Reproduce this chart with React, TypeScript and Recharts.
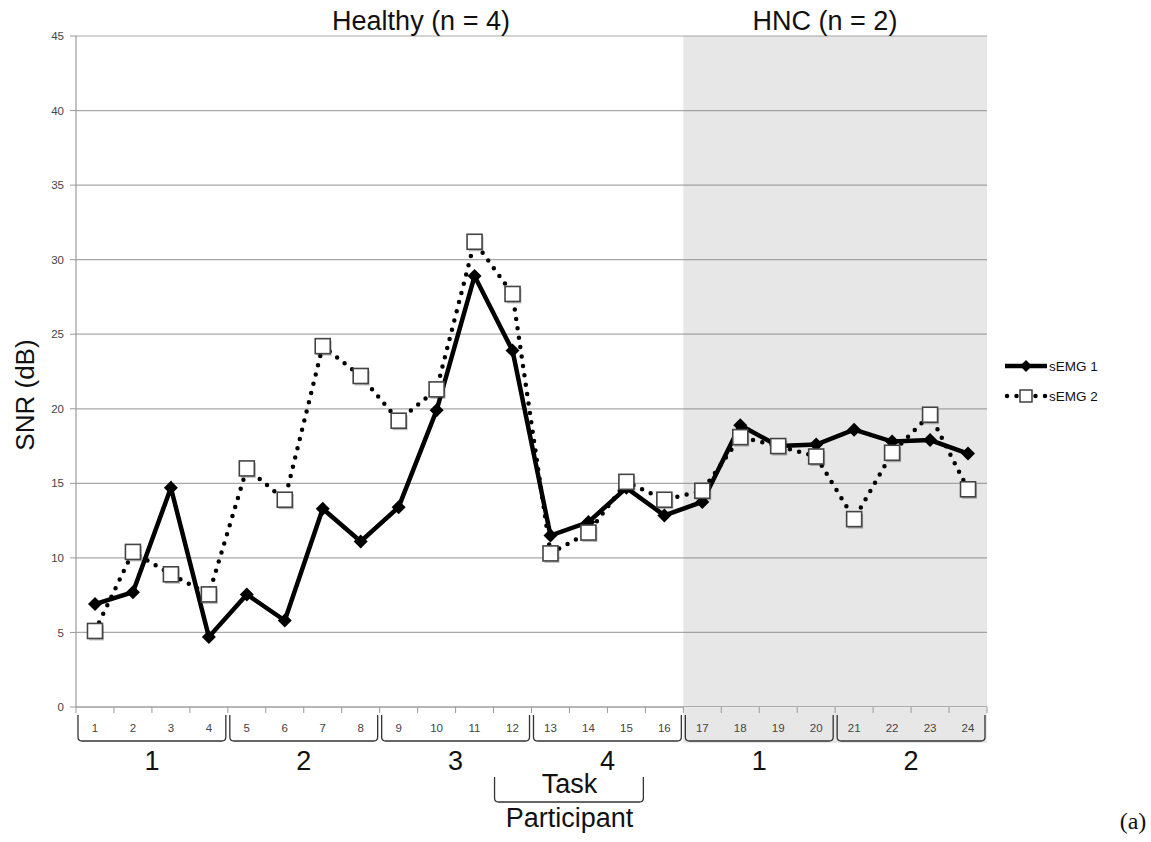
import React from 'react';
import {
  LineChart,
  Line,
  XAxis,
  YAxis,
  CartesianGrid,
  ReferenceArea,
  Legend,
  Customized,
} from 'recharts';

// task index along the x axis
const tasks = ['1', '2', '3', '4', '5', '6', '7', '8', '9', '10', '11', '12',
  '13', '14', '15', '16', '17', '18', '19', '20', '21', '22', '23', '24'];

const semg1 = [6.9, 7.7, 14.7, 4.7, 7.55, 5.8, 13.3, 11.1, 13.4, 19.9, 28.9, 23.9,
  11.5, 12.4, 14.7, 12.85, 13.75, 18.9, 17.5, 17.6, 18.6, 17.8, 17.9, 17.0];

const semg2 = [5.1, 10.4, 8.9, 7.55, 16.0, 13.9, 24.2, 22.2, 19.2, 21.3, 31.2, 27.7,
  10.3, 11.7, 15.1, 13.9, 14.5, 18.1, 17.5, 16.8, 12.6, 17.05, 19.6, 14.6];

// participant numbering under each group of 4 tasks
const participants = ['1', '2', '3', '4', '1', '2'];
const tasksPerParticipant = 4;
const healthyCount = 4;

const yTicks = [0, 5, 10, 15, 20, 25, 30, 35, 40, 45];

const data = tasks.map((t, i) => ({ task: t, s1: semg1[i], s2: semg2[i] }));

const AXIS = '#9a9a9a';
const SHADE = '#e7e7e7';
const SANS = '"Liberation Sans", Arial, sans-serif';

const Diamond = (props: any) => {
  const { cx, cy, index } = props;
  if (cx == null || cy == null) return null;
  const r = 7;
  return (
    <path
      key={`d-${index}`}
      d={`M${cx},${cy - r} L${cx + r},${cy} L${cx},${cy + r} L${cx - r},${cy} Z`}
      fill="#000"
    />
  );
};

const Square = (props: any) => {
  const { cx, cy, index } = props;
  if (cx == null || cy == null) return null;
  const s = 15;
  return (
    <g key={`s-${index}`}>
      <rect x={cx - s / 2 + 1.5} y={cy - s / 2 + 2} width={s} height={s} fill="#000" opacity={0.25} />
      <rect x={cx - s / 2} y={cy - s / 2} width={s} height={s} fill="#fff" stroke="#444" strokeWidth={1.6} />
    </g>
  );
};

const bracketPath = (x0: number, x1: number, top: number, bottom: number) =>
  `M${x0},${top} L${x0},${bottom - 4} Q${x0},${bottom} ${x0 + 4},${bottom} ` +
  `L${x1 - 4},${bottom} Q${x1},${bottom} ${x1},${bottom - 4} L${x1},${top}`;

const TaskTick = (props: any) => {
  const { x, y, payload, index, width } = props;
  const band = payload && payload.offset ? payload.offset * 2 : (width || 911) / tasks.length;
  const half = band / 2;
  const left = x - half;
  const hncStart = healthyCount * tasksPerParticipant;

  return (
    <g>
      {index === hncStart && (
        <rect x={left} y={y} width={band * (tasks.length - hncStart)} height={36} fill={SHADE} />
      )}
      <line x1={left} y1={y} x2={left} y2={y + 6} stroke={AXIS} strokeWidth={1} />
      {index === tasks.length - 1 && (
        <line x1={x + half} y1={y} x2={x + half} y2={y + 6} stroke={AXIS} strokeWidth={1} />
      )}
      <text x={x} y={y + 25} textAnchor="middle" fontSize={11.5} fill="#444" fontFamily={SANS}>
        {payload.value}
      </text>
      {index % tasksPerParticipant === tasksPerParticipant - 1 && (
        <g>
          <path
            d={bracketPath(x + half - band * tasksPerParticipant + 2, x + half - 2, y + 8, y + 34)}
            fill="none"
            stroke="#333"
            strokeWidth={1.3}
          />
          <text
            x={x + half - (band * tasksPerParticipant) / 2}
            y={y + 63}
            textAnchor="middle"
            fontSize={27}
            fill="#111"
            fontFamily={SANS}
          >
            {participants[Math.floor(index / tasksPerParticipant)]}
          </text>
        </g>
      )}
      {index === 14 && (
        <g>
          <path
            d={bracketPath(x + half - band * 4 + 1, x + half - 2, y + 70, y + 95)}
            fill="none"
            stroke="#333"
            strokeWidth={1.3}
          />
          <text x={x + half - band * 2} y={y + 86} textAnchor="middle" fontSize={27} fill="#111" fontFamily={SANS}>
            Task
          </text>
          <text x={x + half - band * 2} y={y + 120} textAnchor="middle" fontSize={27} fill="#111" fontFamily={SANS}>
            Participant
          </text>
        </g>
      )}
    </g>
  );
};

const LegendContent = () => (
  <div style={{ fontFamily: SANS, fontSize: 13.5, color: '#111' }}>
    <div style={{ display: 'flex', alignItems: 'center', height: 30 }}>
      <svg width={46} height={20}>
        <line x1={2} y1={10} x2={44} y2={10} stroke="#000" strokeWidth={4.5} />
        <path d="M23,4 L29,10 L23,16 L17,10 Z" fill="#000" />
      </svg>
      <span>sEMG 1</span>
    </div>
    <div style={{ display: 'flex', alignItems: 'center', height: 30 }}>
      <svg width={46} height={20}>
        <line x1={4} y1={10} x2={44} y2={10} stroke="#000" strokeWidth={4.5} strokeDasharray="0 9.5" strokeLinecap="round" />
        <rect x={17} y={4} width={12} height={12} fill="#fff" stroke="#333" strokeWidth={1.4} />
      </svg>
      <span>sEMG 2</span>
    </div>
  </div>
);

const Annotations = () => (
  <g fontFamily={SANS} fill="#111">
    <text x={421} y={30} textAnchor="middle" fontSize={27}>Healthy (n = 4)</text>
    <text x={825} y={30} textAnchor="middle" fontSize={27}>HNC (n = 2)</text>
    <text
      x={34}
      y={395}
      textAnchor="middle"
      fontSize={26}
      transform="rotate(-90, 34, 395)"
    >
      SNR (dB)
    </text>
    <text x={1133} y={829} textAnchor="middle" fontSize={24} fontFamily='"Liberation Serif", "Times New Roman", serif'>
      (a)
    </text>
  </g>
);

export default function App() {
  return (
    <div style={{ position: 'absolute', left: 0, top: 0, background: '#fff' }}>
      <LineChart
        width={1151}
        height={842}
        data={data}
        margin={{ top: 36, right: 164, bottom: 0, left: 0 }}
      >
        <CartesianGrid vertical={false} stroke="#a8a8a8" strokeWidth={1.2} />
        {/* translucent so the grid lines stay visible through the HNC shading */}
        <ReferenceArea
          x1="17"
          x2="24"
          y1={0}
          y2={45}
          fill="#888"
          fillOpacity={0.2}
          stroke="none"
          ifOverflow="visible"
        />
        <XAxis
          dataKey="task"
          type="category"
          scale="band"
          interval={0}
          height={135}
          tickLine={false}
          tickSize={0}
          tickMargin={0}
          axisLine={{ stroke: AXIS, strokeWidth: 1.2 }}
          tick={<TaskTick />}
        />
        <YAxis
          domain={[0, 45]}
          ticks={yTicks}
          width={76}
          tickSize={6}
          tickMargin={6}
          interval={0}
          axisLine={{ stroke: AXIS, strokeWidth: 1.2 }}
          tickLine={{ stroke: AXIS }}
          tick={{ fontSize: 11.5, fill: '#444', fontFamily: SANS }}
        />
        <Line
          type="linear"
          dataKey="s1"
          name="sEMG 1"
          stroke="#000"
          strokeWidth={4.5}
          dot={<Diamond />}
          activeDot={false}
          isAnimationActive={false}
        />
        <Line
          type="linear"
          dataKey="s2"
          name="sEMG 2"
          stroke="#000"
          strokeWidth={4.5}
          strokeDasharray="0 9.5"
          strokeLinecap="round"
          dot={<Square />}
          activeDot={false}
          isAnimationActive={false}
        />
        <Legend
          layout="vertical"
          align="center"
          verticalAlign="middle"
          content={<LegendContent />}
          wrapperStyle={{ left: 1003, top: 351, width: 148, height: 62 }}
        />
        <Customized component={<Annotations />} />
      </LineChart>
    </div>
  );
}
